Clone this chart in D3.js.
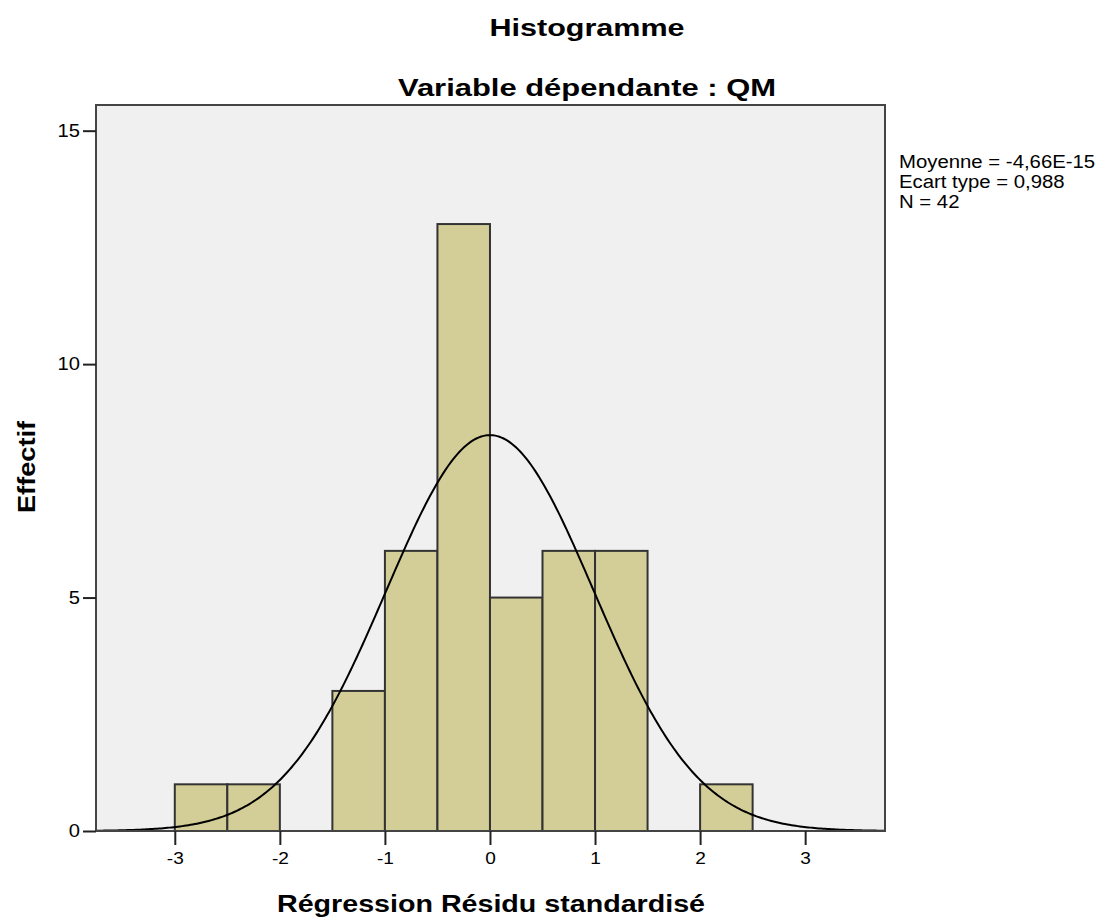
<!DOCTYPE html>
<html>
<head>
<meta charset="utf-8">
<script src="https://cdn.jsdelivr.net/npm/d3@7"></script>
<style>
  body { margin: 0; background: #fff; }
  text { font-family: "Liberation Sans", Arial, sans-serif; fill: #000; }
</style>
</head>
<body>
<div id="chart"></div>
<script>
"use strict";

// bins of width 0.5, counts
var binStarts = [-3, -2.5, -2, -1.5, -1, -0.5, 0, 0.5, 1, 1.5, 2];
var counts    = [ 1,    1,  0,    3,  6,   13, 5,   6, 6,   0, 1];
var binWidth = 0.5;

var xTicks = [-3, -2, -1, 0, 1, 2, 3];
var yTicks = [0, 5, 10, 15];

// stats as printed by SPSS
var mean = -4.66e-15;
var sd = 0.988;
var n = 42;
var statLines = ["Moyenne = -4,66E-15", "Ecart type = 0,988", "N = 42"];

var width = 1104, height = 923;
var margin = {top: 105, right: 219, bottom: 92, left: 96};

var svg = d3.select("#chart").append("svg")
  .attr("width", width)
  .attr("height", height);

var x = d3.scaleLinear()
  .domain([-3.75, 3.76])
  .range([margin.left, width - margin.right]);

var y = d3.scaleLinear()
  .domain([0, 15.55])
  .range([height - margin.bottom, margin.top]);

// the SPSS export is stretched sideways, so texts get a fixed length
function stretched(sel, factor) {
  sel.each(function() {
    var w = this.getComputedTextLength();
    d3.select(this).attr("textLength", w * factor).attr("lengthAdjust", "spacingAndGlyphs");
  });
}

// plot background
svg.append("rect")
  .attr("x", margin.left)
  .attr("y", margin.top)
  .attr("width", x.range()[1] - x.range()[0])
  .attr("height", y.range()[0] - y.range()[1])
  .attr("fill", "#f0f0f0");

// bars
svg.selectAll("rect.bar")
  .data(binStarts.map(function(b, i) { return {x0: b, c: counts[i]}; })
    .filter(function(d) { return d.c > 0; }))
  .enter()
  .append("rect")
  .attr("class", "bar")
  .attr("x", function(d) { return x(d.x0); })
  .attr("y", function(d) { return y(d.c); })
  .attr("width", function(d) { return x(d.x0 + binWidth) - x(d.x0); })
  .attr("height", function(d) { return y(0) - y(d.c); })
  .attr("fill", "#d3ce97")
  .attr("stroke", "#333")
  .attr("stroke-width", 2);

// normal curve scaled to counts
var curvePts = d3.range(x.domain()[0], x.domain()[1] + 0.01, 0.02).map(function(v) {
  var z = (v - mean) / sd;
  return [v, n * binWidth * Math.exp(-0.5 * z * z) / (sd * Math.sqrt(2 * Math.PI))];
});

var line = d3.line()
  .x(function(d) { return x(d[0]); })
  .y(function(d) { return y(d[1]); });

svg.append("path")
  .datum(curvePts)
  .attr("fill", "none")
  .attr("stroke", "#000")
  .attr("stroke-width", 2)
  .attr("d", line);

// frame
svg.append("rect")
  .attr("x", margin.left)
  .attr("y", margin.top)
  .attr("width", x.range()[1] - x.range()[0])
  .attr("height", y.range()[0] - y.range()[1])
  .attr("fill", "none")
  .attr("stroke", "#444")
  .attr("stroke-width", 2);

var xAxis = d3.axisBottom(x).tickValues(xTicks).tickSize(14).tickSizeOuter(0)
  .tickFormat(d3.format("d"));
var gx = svg.append("g")
  .attr("transform", "translate(0," + y(0) + ")")
  .call(xAxis);
gx.select(".domain").remove();
gx.selectAll("line").attr("stroke", "#222").attr("stroke-width", 2);
gx.selectAll("text")
  .attr("font-size", 17)
  .attr("y", 33).attr("dy", null)
  .text(function(d) { return d < 0 ? "-" + (-d) : d; })
  .call(stretched, 1.12);

var yAxis = d3.axisLeft(y).tickValues(yTicks).tickSize(13).tickSizeOuter(0);
var gy = svg.append("g")
  .attr("transform", "translate(" + margin.left + ",0)")
  .call(yAxis);
gy.select(".domain").remove();
gy.selectAll("line").attr("stroke", "#222").attr("stroke-width", 2);
gy.selectAll("text").attr("font-size", 18).attr("x", -16).call(stretched, 1.12);

// titles
svg.append("text")
  .attr("x", 587).attr("y", 36)
  .attr("text-anchor", "middle")
  .attr("font-size", 23).attr("font-weight", "bold")
  .attr("textLength", 195).attr("lengthAdjust", "spacingAndGlyphs")
  .text("Histogramme");

svg.append("text")
  .attr("x", 587).attr("y", 96)
  .attr("text-anchor", "middle")
  .attr("font-size", 23).attr("font-weight", "bold")
  .attr("textLength", 378).attr("lengthAdjust", "spacingAndGlyphs")
  .text("Variable dépendante : QM");

svg.append("text")
  .attr("x", 491).attr("y", 912)
  .attr("text-anchor", "middle")
  .attr("font-size", 23).attr("font-weight", "bold")
  .attr("textLength", 428).attr("lengthAdjust", "spacingAndGlyphs")
  .text("Régression Résidu standardisé");

svg.append("text")
  .attr("transform", "translate(35,467) rotate(-90)")
  .attr("text-anchor", "middle")
  .attr("font-size", 23).attr("font-weight", "bold")
  .attr("textLength", 92).attr("lengthAdjust", "spacingAndGlyphs")
  .text("Effectif");

// stats box
svg.append("g")
  .selectAll("text")
  .data(statLines)
  .enter()
  .append("text")
  .attr("x", 899)
  .attr("y", function(d, i) { return 168 + i * 20; })
  .attr("font-size", 18)
  .text(function(d) { return d; })
  .call(stretched, 1.13);
</script>
</body>
</html>
